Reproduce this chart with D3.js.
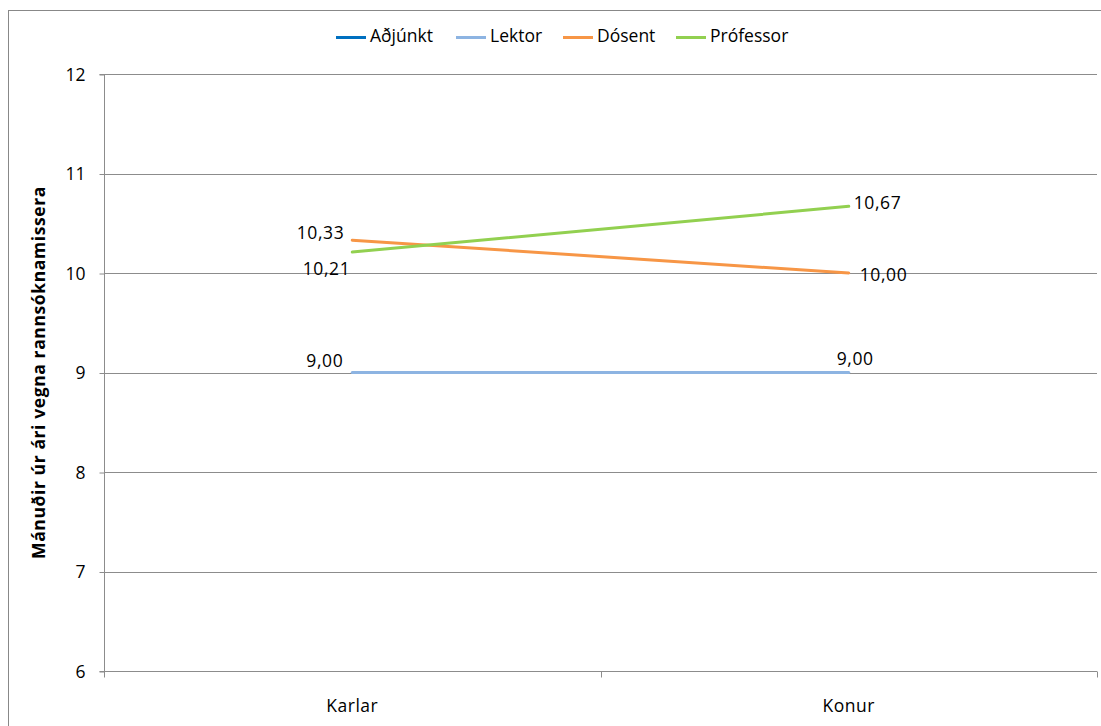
<!DOCTYPE html>
<html><head><meta charset="utf-8">
<script src="https://cdn.jsdelivr.net/npm/d3@7"></script>
<style>
html,body{margin:0;padding:0;background:#fff;}
svg{display:block;font-family:"Open Sans",sans-serif;}
</style></head><body>
<svg id="c" width="1101" height="726"></svg>
<script>
const categories = ["Karlar", "Konur"];
const seriesNames = ["Aðjúnkt", "Lektor", "Dósent", "Prófessor"];
const adjunkt = [null, null];
const lektor = [9.00, 9.00];
const dosent = [10.33, 10.00];
const professor = [10.21, 10.67];
const yTicks = [6, 7, 8, 9, 10, 11, 12];
const yTitle = "Mánuðir úr ári vegna rannsóknamissera";

const colors = ["#0070C0", "#8DB4E2", "#F79646", "#92D050"];
const values = [adjunkt, lektor, dosent, professor];
// label placement per series per point: [dx, dy, anchor]
const labelPlace = [
  [[0,0,"end"],[0,0,"start"]],
  [[-9,-10,"end"],[-12,-12,"start"]],
  [[-8,-6,"end"],[11,3,"start"]],
  [[-2,18,"end"],[5,-2,"start"]]
];
const FS = 17.5;

const svg = d3.select("#c");
const m = {left:104, right:1097, top:74, bottom:671};

svg.append("rect").attr("x",8.5).attr("y",10.5).attr("width",1100).attr("height",730)
  .attr("fill","none").attr("stroke","#888").attr("stroke-width",1);

const x = d3.scaleBand().domain(categories).range([m.left, m.right]).padding(0);
const y = d3.scaleLinear().domain([6,12]).range([m.bottom, m.top]);

// gridlines
svg.append("g").selectAll("line").data(yTicks.filter(d=>d!==6)).join("line")
  .attr("x1",m.left).attr("x2",m.right)
  .attr("y1",d=>Math.round(y(d))+0.5).attr("y2",d=>Math.round(y(d))+0.5)
  .attr("stroke","#8c8c8c").attr("stroke-width",1);

// y axis
const yAxis = d3.axisLeft(y).tickValues(yTicks).tickSize(5).tickPadding(14).tickFormat(d3.format("d"));
const ya = svg.append("g").attr("transform",`translate(${m.left+0.5},0.5)`).call(yAxis);
ya.select(".domain").attr("stroke","#8c8c8c").attr("d",`M-5,${m.top}H0V${m.bottom}H-5`);
ya.selectAll(".tick line").attr("stroke","#8c8c8c");
ya.selectAll(".tick text").attr("font-size",FS).attr("fill","#000")
  .attr("font-family","'Open Sans',sans-serif");

// x axis
const xa = svg.append("g").attr("transform",`translate(0,${Math.round(m.bottom)+0.5})`);
xa.append("line").attr("x1",m.left).attr("x2",m.right).attr("stroke","#8c8c8c");
const bounds = [m.left].concat(categories.map(c=>x(c)+x.bandwidth()));
xa.selectAll("line.tk").data(bounds).join("line").attr("class","tk")
  .attr("x1",d=>Math.round(d)+0.5).attr("x2",d=>Math.round(d)+0.5).attr("y1",0).attr("y2",6)
  .attr("stroke","#8c8c8c");
xa.selectAll("text").data(categories).join("text")
  .attr("x",d=>x(d)+x.bandwidth()/2).attr("y",36).attr("text-anchor","middle")
  .attr("dominant-baseline","middle").attr("letter-spacing",0.5)
  .attr("font-size",FS).attr("fill","#000").text(d=>d);

// y title
svg.append("text").attr("transform",`translate(40,${(m.top+m.bottom)/2}) rotate(-90)`)
  .attr("text-anchor","middle").attr("dominant-baseline","middle")
  .attr("font-size",17.5).attr("letter-spacing",0.6).attr("font-weight","bold").text(yTitle);

// lines
const cx = c => x(c) + x.bandwidth()/2;
const line = d3.line().defined(d=>d.v!=null).x(d=>cx(d.c)).y(d=>y(d.v));
values.forEach((vals,i)=>{
  const pts = categories.map((c,j)=>({c, v: vals[j]}));
  svg.append("path").datum(pts).attr("d",line).attr("fill","none")
    .attr("stroke",colors[i]).attr("stroke-width",3).attr("stroke-linecap","round");
});
// labels
values.forEach((vals,i)=>{
  categories.forEach((c,j)=>{
    if (vals[j]==null) return;
    const p = labelPlace[i][j];
    svg.append("text").attr("x",cx(c)+p[0]).attr("y",y(vals[j])+p[1])
      .attr("text-anchor",p[2]).attr("dominant-baseline","middle")
      .attr("font-size",FS).attr("letter-spacing",0.6).attr("fill","#000")
      .text(d3.format(".2f")(vals[j]).replace(".",","));
  });
});

// legend
const legX = [336, 456, 563, 676];
const lg = svg.append("g");
seriesNames.forEach((n,i)=>{
  lg.append("line").attr("x1",legX[i]).attr("x2",legX[i]+30).attr("y1",37.5).attr("y2",37.5)
    .attr("stroke",colors[i]).attr("stroke-width",3);
  lg.append("text").attr("x",legX[i]+34).attr("y",37).attr("dominant-baseline","middle")
    .attr("font-size",FS).attr("fill","#000").text(n);
});
</script>
</body></html>
